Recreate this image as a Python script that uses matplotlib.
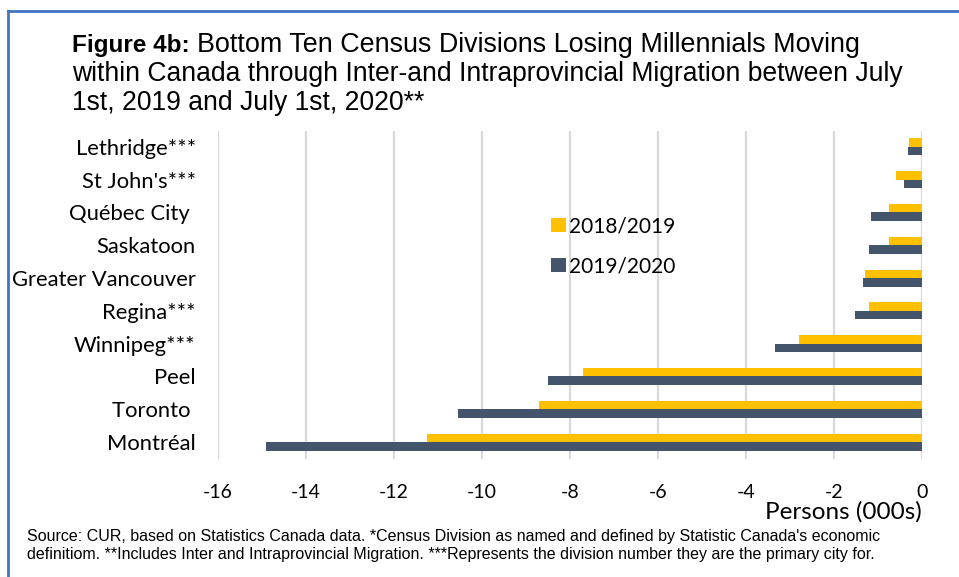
import numpy as np
import matplotlib
matplotlib.use('Agg')
import matplotlib.pyplot as plt
from matplotlib.patches import Patch
from matplotlib.lines import Line2D

# data, bottom to top as drawn
divisions = ['Montréal', 'Toronto ', 'Peel', 'Winnipeg***', 'Regina***',
             'Greater Vancouver', 'Saskatoon', 'Québec City ', "St John's***", 'Lethridge***']
y2018 = [-11.25, -8.7, -7.7, -2.8, -1.2, -1.3, -0.75, -0.75, -0.58, -0.3]
y2019 = [-14.9, -10.55, -8.5, -3.35, -1.52, -1.35, -1.2, -1.15, -0.42, -0.32]
xticks = [-16, -14, -12, -10, -8, -6, -4, -2, 0]

yellow = '#FFC000'
navy = '#44546A'
W, H = 959, 577

fig = plt.figure(figsize=(W / 100, H / 100), dpi=100)
ax = fig.add_axes([218 / W, 1 - 458.5 / H, 704 / W, 328 / H])

pos = np.arange(len(divisions))
bh = 0.26
ax.barh(pos + bh / 2, y2018, height=bh, color=yellow, zorder=3)
ax.barh(pos - bh / 2, y2019, height=bh, color=navy, zorder=3)

ax.set_xlim(-16, 0)
ax.set_ylim(-0.5, len(divisions) - 0.5)
ax.set_xticks(xticks)
ax.set_xticklabels([str(t) for t in xticks], fontsize=14, family='Lato')
ax.set_yticks(pos)
ax.set_yticklabels(divisions, fontsize=15.8, family='Lato')
ax.tick_params(axis='both', length=0)
ax.tick_params(axis='x', pad=18)
ax.tick_params(axis='y', pad=16)
ax.grid(axis='x', color='#D9D9D9', linewidth=1.6, zorder=0)
for s in ax.spines.values():
    s.set_visible(False)

# legend
handles = [Patch(facecolor=yellow, edgecolor='none'), Patch(facecolor=navy, edgecolor='none')]
fig.legend(handles, ['2018/2019', '2019/2020'], loc='upper left',
           bbox_to_anchor=(543 / W, 1 - 208 / H), frameon=False,
           prop={'family': 'Lato', 'size': 15}, handlelength=0.7, handleheight=0.7,
           handletextpad=0.15, labelspacing=0.95, borderaxespad=0)

fig.text(922 / W, 1 - 512 / H, 'Persons (000s)', ha='right', va='center',
         fontsize=17.5, family='Lato')

# title
tkw = dict(family='Liberation Sans', va='baseline')
t1 = fig.text(72 / W, 1 - 52 / H, 'Figure 4b:', fontweight='bold', fontsize=17.5, **tkw)
fig.canvas.draw()
bb = t1.get_window_extent()
fig.text(bb.x1 / W + 7 / W, 1 - 52 / H,
         'Bottom Ten Census Divisions Losing Millennials Moving', fontsize=19.4, **tkw)
fig.text(72 / W, 1 - 81 / H,
         'within Canada through Inter-and Intraprovincial Migration between July',
         fontsize=19.1, **tkw)
fig.text(72 / W, 1 - 110 / H, '1st, 2019 and July 1st, 2020**', fontsize=19.1, **tkw)

# footnote
fkw = dict(fontsize=11.5, family='Liberation Sans', va='center')
fig.text(27 / W, 1 - 537 / H,
         "Source: CUR, based on Statistics Canada data. *Census Division as named and defined by "
         "Statistic Canada's economic", **fkw)
fig.text(27 / W, 1 - 554 / H,
         "definitiom. **Includes Inter and Intraprovincial Migration. ***Represents the division "
         "number they are the primary city for.", **fkw)

# frame lines (left and top)
fig.add_artist(Line2D([7.5 / W, 7.5 / W], [0, 1 - 11 / H], color='#4472C4', linewidth=2))
fig.add_artist(Line2D([7.5 / W, 1], [1 - 11 / H, 1 - 11 / H], color='#4472C4', linewidth=2))

fig.savefig('out.png', dpi=100)
